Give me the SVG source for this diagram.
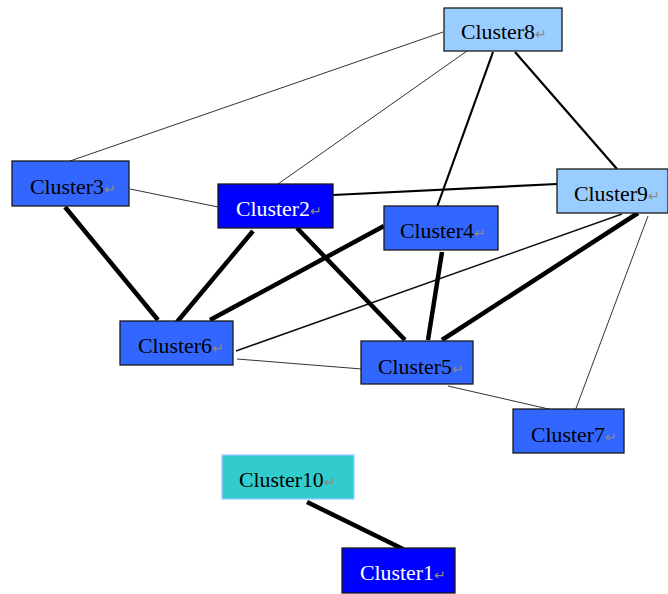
<svg xmlns="http://www.w3.org/2000/svg" width="668" height="594" viewBox="0 0 668 594">
<style>
.box{stroke:#1a1a1a;stroke-width:1.3}
.c1{fill:#0000FF}.c2{fill:#3366FF}.c3{fill:#99CCFF}.c4{fill:#33CCCC;stroke:#99CCFF}
.t{font-family:"Liberation Serif","Times New Roman",serif;font-size:21.8px;fill:#000}
.w{fill:#fff}
.m{font-size:14px;fill:#8a8a8a}
.e{stroke:#000;fill:none;stroke-linecap:butt}
.thin{stroke:#333;stroke-width:1}
.mid{stroke-width:2.2}
.thick{stroke-width:4.5}
</style>
<rect width="668" height="594" fill="#fff"/>
<g id="connectors">
<line class="e thin" x1="443" y1="32" x2="70" y2="161"/>
<line class="e thin" x1="467" y1="51" x2="278" y2="184"/>
<line class="e thin" x1="130" y1="189" x2="218" y2="207"/>
<line class="e mid" x1="493" y1="52" x2="437" y2="207"/>
<line class="e mid" x1="515" y1="52" x2="617" y2="169"/>
<line class="e mid" x1="333" y1="195" x2="557" y2="184"/>
<line class="e thin" style="stroke-width:1.5;stroke:#111" x1="622" y1="214" x2="236" y2="351"/>
<line class="e thin" x1="648" y1="216" x2="575" y2="411"/>
<line class="e thin" x1="237" y1="359" x2="362" y2="369"/>
<line class="e thin" x1="448" y1="386" x2="553" y2="410"/>
<line class="e thick" x1="65" y1="207" x2="158" y2="320"/>
<line class="e thick" x1="253" y1="231" x2="177" y2="322"/>
<line class="e thick" x1="384" y1="226" x2="210" y2="320"/>
<line class="e thick" x1="297" y1="228" x2="405" y2="340"/>
<line class="e thick" x1="442" y1="252" x2="428" y2="340"/>
<line class="e thick" x1="638" y1="213" x2="442" y2="340"/>
<line class="e thick" x1="307" y1="502" x2="403" y2="549"/>
</g>
<g id="cluster8"><rect class="box c3" x="444" y="8" width="118" height="43"/><text class="t" x="461" y="39">Cluster8<tspan class="m">↵</tspan></text></g>
<g id="cluster3"><rect class="box c2" x="12" y="161" width="117" height="45"/><text class="t" x="30" y="194">Cluster3<tspan class="m">↵</tspan></text></g>
<g id="cluster2"><rect class="box c1" x="218" y="184" width="115" height="44"/><text class="t w" x="236" y="216">Cluster2<tspan class="m">↵</tspan></text></g>
<g id="cluster4"><rect class="box c2" x="384" y="206" width="114" height="44"/><text class="t" x="400" y="238">Cluster4<tspan class="m">↵</tspan></text></g>
<g id="cluster9"><rect class="box c3" x="557" y="169" width="111" height="44"/><text class="t" x="574" y="201">Cluster9<tspan class="m">↵</tspan></text></g>
<g id="cluster6"><rect class="box c2" x="120" y="321" width="113" height="44"/><text class="t" x="138" y="353">Cluster6<tspan class="m">↵</tspan></text></g>
<g id="cluster5"><rect class="box c2" x="361" y="341" width="112" height="43"/><text class="t" x="378" y="374">Cluster5<tspan class="m">↵</tspan></text></g>
<g id="cluster7"><rect class="box c2" x="513" y="409" width="111" height="44"/><text class="t" x="531" y="442">Cluster7<tspan class="m">↵</tspan></text></g>
<g id="cluster10"><rect class="box c4" x="222" y="455" width="132" height="44"/><text class="t" x="239" y="487">Cluster10<tspan class="m">↵</tspan></text></g>
<g id="cluster1"><rect class="box c1" x="342" y="548" width="113" height="45"/><text class="t w" x="360" y="580">Cluster1<tspan class="m">↵</tspan></text></g>
</svg>
